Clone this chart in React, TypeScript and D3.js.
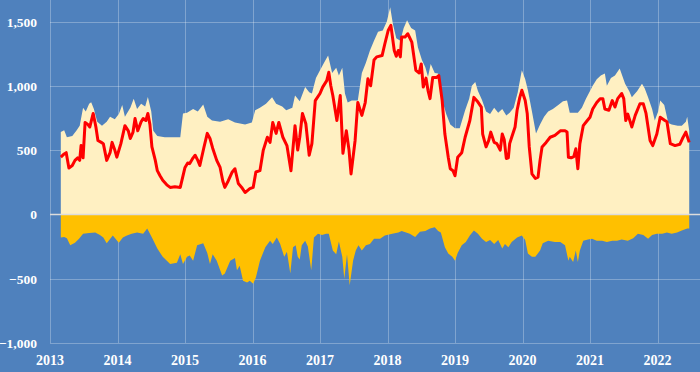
import React, { useRef, useEffect } from 'react';
import * as d3 from 'd3';

// [fractional year, value]
const upperBand: [number, number][] = [
  [2013.16, 640], [2013.21, 655], [2013.25, 600], [2013.33, 610], [2013.39, 650], [2013.44, 690], [2013.49, 830], [2013.53, 800],
  [2013.58, 860], [2013.61, 873], [2013.65, 820], [2013.7, 720], [2013.77, 690], [2013.84, 720], [2013.89, 760], [2013.96, 740],
  [2014.02, 780], [2014.07, 850], [2014.11, 760], [2014.19, 830], [2014.24, 900], [2014.29, 820], [2014.35, 860], [2014.41, 840],
  [2014.45, 912], [2014.5, 800], [2014.53, 650], [2014.59, 610], [2014.7, 600], [2014.81, 600], [2014.93, 600], [2014.97, 785],
  [2015.03, 790], [2015.12, 820], [2015.19, 800], [2015.27, 855], [2015.33, 760], [2015.4, 730], [2015.52, 720], [2015.64, 740],
  [2015.74, 715], [2015.89, 700], [2015.99, 715], [2016.04, 810], [2016.11, 830], [2016.2, 860], [2016.29, 910], [2016.35, 860],
  [2016.44, 840], [2016.5, 810], [2016.59, 830], [2016.63, 925], [2016.7, 880], [2016.78, 990], [2016.84, 950], [2016.88, 940],
  [2016.94, 1060], [2017.0, 1120], [2017.06, 1180], [2017.12, 1236], [2017.18, 1100], [2017.24, 1140], [2017.28, 1080], [2017.33, 1140],
  [2017.37, 940], [2017.41, 870], [2017.47, 885], [2017.56, 885], [2017.62, 1100], [2017.68, 1180], [2017.74, 1275], [2017.8, 1350],
  [2017.86, 1420], [2017.93, 1430], [2017.99, 1500], [2018.04, 1610], [2018.08, 1480], [2018.13, 1370], [2018.19, 1350], [2018.24, 1450],
  [2018.29, 1510], [2018.35, 1450], [2018.41, 1430], [2018.45, 1300], [2018.51, 1200], [2018.56, 1145], [2018.6, 1070], [2018.64, 1170],
  [2018.7, 1100], [2018.75, 1095], [2018.81, 890], [2018.87, 780], [2018.93, 700], [2019.0, 670], [2019.07, 670], [2019.15, 810],
  [2019.21, 900], [2019.25, 1000], [2019.3, 1030], [2019.34, 960], [2019.4, 890], [2019.46, 800], [2019.52, 780], [2019.58, 830],
  [2019.64, 790], [2019.7, 820], [2019.76, 770], [2019.81, 790], [2019.87, 830], [2019.93, 950], [2019.99, 1120], [2020.04, 1050],
  [2020.08, 965], [2020.14, 800], [2020.2, 630], [2020.26, 700], [2020.32, 760], [2020.38, 800], [2020.45, 820], [2020.53, 850],
  [2020.6, 880], [2020.66, 885], [2020.7, 790], [2020.78, 790], [2020.82, 790], [2020.88, 830], [2020.94, 900], [2021.0, 960],
  [2021.04, 1000], [2021.1, 1050], [2021.16, 1080], [2021.22, 1095], [2021.25, 1000], [2021.31, 1060], [2021.37, 1080], [2021.44, 1135],
  [2021.52, 1015], [2021.58, 960], [2021.62, 910], [2021.7, 960], [2021.77, 1015], [2021.81, 980], [2021.86, 910], [2021.92, 820],
  [2021.96, 730], [2022.01, 800], [2022.04, 885], [2022.1, 850], [2022.16, 710], [2022.21, 700], [2022.3, 690], [2022.36, 690],
  [2022.42, 720], [2022.44, 760], [2022.47, 650],
];

const mainLine: [number, number][] = [
  [2013.16, 445], [2013.21, 470], [2013.24, 480], [2013.28, 360], [2013.33, 380], [2013.37, 420], [2013.41, 440], [2013.44, 420],
  [2013.46, 535], [2013.49, 440], [2013.52, 715], [2013.56, 700], [2013.59, 680], [2013.64, 785], [2013.68, 680], [2013.71, 575],
  [2013.76, 560], [2013.79, 550], [2013.84, 420], [2013.89, 480], [2013.92, 560], [2013.96, 500], [2013.99, 445], [2014.05, 550],
  [2014.11, 690], [2014.16, 650], [2014.19, 590], [2014.23, 640], [2014.26, 745], [2014.3, 650], [2014.35, 720], [2014.38, 745],
  [2014.42, 730], [2014.45, 785], [2014.48, 700], [2014.51, 525], [2014.56, 420], [2014.59, 340], [2014.63, 300], [2014.67, 265],
  [2014.73, 230], [2014.78, 210], [2014.85, 215], [2014.93, 210], [2015.0, 365], [2015.04, 400], [2015.07, 395], [2015.12, 440],
  [2015.15, 460], [2015.19, 420], [2015.22, 380], [2015.28, 520], [2015.33, 630], [2015.37, 590], [2015.41, 515], [2015.47, 420],
  [2015.52, 365], [2015.56, 260], [2015.59, 210], [2015.64, 260], [2015.7, 330], [2015.74, 355], [2015.79, 240], [2015.84, 210],
  [2015.89, 170], [2015.96, 200], [2016.01, 210], [2016.05, 330], [2016.11, 340], [2016.16, 500], [2016.22, 600], [2016.26, 560],
  [2016.3, 715], [2016.35, 630], [2016.39, 715], [2016.45, 600], [2016.51, 535], [2016.57, 340], [2016.63, 690], [2016.67, 500],
  [2016.7, 600], [2016.74, 785], [2016.79, 705], [2016.84, 460], [2016.88, 550], [2016.93, 885], [2017.0, 940], [2017.04, 990],
  [2017.1, 1040], [2017.13, 1105], [2017.16, 1000], [2017.19, 925], [2017.25, 730], [2017.3, 925], [2017.34, 475], [2017.39, 650],
  [2017.43, 500], [2017.46, 315], [2017.52, 575], [2017.56, 870], [2017.62, 770], [2017.67, 870], [2017.71, 1055], [2017.75, 1000],
  [2017.8, 1200], [2017.84, 1225], [2017.92, 1235], [2017.96, 1325], [2018.01, 1430], [2018.05, 1470], [2018.1, 1275], [2018.13, 1230],
  [2018.16, 1275], [2018.19, 1225], [2018.21, 1380], [2018.26, 1380], [2018.3, 1405], [2018.36, 1340], [2018.42, 1120], [2018.47, 1100],
  [2018.5, 1170], [2018.53, 990], [2018.57, 1060], [2018.6, 965], [2018.63, 900], [2018.67, 1065], [2018.73, 1065], [2018.76, 1080],
  [2018.81, 885], [2018.85, 625], [2018.9, 445], [2018.93, 355], [2018.97, 340], [2019.0, 300], [2019.04, 445], [2019.1, 480],
  [2019.15, 600], [2019.22, 730], [2019.28, 910], [2019.33, 880], [2019.39, 835], [2019.41, 625], [2019.46, 525], [2019.5, 575],
  [2019.53, 640], [2019.58, 560], [2019.62, 550], [2019.67, 500], [2019.7, 625], [2019.73, 580], [2019.76, 435], [2019.79, 440],
  [2019.81, 550], [2019.84, 600], [2019.89, 680], [2019.92, 810], [2019.96, 910], [2019.99, 965], [2020.04, 885], [2020.07, 785],
  [2020.1, 525], [2020.14, 315], [2020.19, 280], [2020.23, 290], [2020.26, 420], [2020.29, 525], [2020.35, 560], [2020.41, 600],
  [2020.48, 615], [2020.56, 650], [2020.63, 650], [2020.66, 640], [2020.68, 445], [2020.72, 440], [2020.76, 450], [2020.79, 510],
  [2020.82, 355], [2020.85, 550], [2020.9, 690], [2020.96, 730], [2021.0, 755], [2021.04, 820], [2021.1, 870], [2021.15, 900],
  [2021.19, 900], [2021.22, 820], [2021.28, 810], [2021.33, 885], [2021.37, 835], [2021.41, 900], [2021.47, 940], [2021.5, 900],
  [2021.53, 730], [2021.56, 780], [2021.62, 680], [2021.67, 770], [2021.74, 860], [2021.79, 860], [2021.83, 785], [2021.89, 575],
  [2021.93, 535], [2021.99, 625], [2022.04, 755], [2022.11, 730], [2022.14, 720], [2022.19, 550], [2022.26, 535], [2022.33, 545],
  [2022.37, 590], [2022.42, 640], [2022.47, 560],
];

const lowerBand: [number, number][] = [
  [2013.16, -180], [2013.21, -175], [2013.25, -185], [2013.3, -240], [2013.37, -220], [2013.43, -190], [2013.49, -150], [2013.58, -145],
  [2013.67, -140], [2013.74, -160], [2013.79, -180], [2013.84, -225], [2013.93, -165], [2014.02, -220], [2014.08, -180], [2014.14, -165],
  [2014.21, -150], [2014.29, -140], [2014.38, -150], [2014.44, -110], [2014.51, -180], [2014.59, -265], [2014.67, -330], [2014.78, -385],
  [2014.88, -375], [2014.93, -310], [2014.97, -385], [2015.03, -330], [2015.07, -320], [2015.12, -360], [2015.18, -240], [2015.27, -225],
  [2015.33, -300], [2015.37, -385], [2015.41, -310], [2015.47, -360], [2015.55, -475], [2015.59, -460], [2015.67, -360], [2015.74, -340],
  [2015.77, -435], [2015.81, -400], [2015.86, -515], [2015.92, -530], [2015.96, -515], [2016.01, -540], [2016.05, -490], [2016.11, -360],
  [2016.19, -255], [2016.26, -205], [2016.3, -230], [2016.36, -180], [2016.41, -230], [2016.47, -330], [2016.51, -290], [2016.56, -460],
  [2016.6, -255], [2016.64, -240], [2016.67, -330], [2016.7, -350], [2016.73, -240], [2016.78, -205], [2016.82, -250], [2016.87, -435],
  [2016.91, -180], [2016.97, -150], [2017.03, -160], [2017.09, -150], [2017.13, -150], [2017.19, -280], [2017.24, -310], [2017.28, -210],
  [2017.33, -330], [2017.36, -500], [2017.4, -310], [2017.44, -550], [2017.49, -360], [2017.53, -280], [2017.57, -240], [2017.62, -280],
  [2017.68, -240], [2017.74, -230], [2017.8, -190], [2017.89, -190], [2017.96, -165], [2018.07, -150], [2018.16, -140], [2018.21, -130],
  [2018.33, -150], [2018.41, -175], [2018.48, -135], [2018.56, -130], [2018.63, -110], [2018.7, -100], [2018.75, -130], [2018.79, -140],
  [2018.85, -255], [2018.9, -305], [2018.96, -330], [2019.0, -360], [2019.04, -300], [2019.1, -240], [2019.16, -215], [2019.22, -165],
  [2019.28, -125], [2019.34, -150], [2019.4, -190], [2019.46, -215], [2019.52, -200], [2019.58, -230], [2019.64, -200], [2019.7, -265],
  [2019.74, -230], [2019.79, -255], [2019.84, -215], [2019.92, -180], [2019.99, -165], [2020.04, -200], [2020.08, -305], [2020.14, -330],
  [2020.19, -330], [2020.26, -280], [2020.3, -225], [2020.38, -205], [2020.48, -215], [2020.56, -215], [2020.63, -240], [2020.68, -360],
  [2020.7, -330], [2020.75, -370], [2020.79, -280], [2020.82, -370], [2020.85, -280], [2020.9, -205], [2020.97, -195], [2021.03, -190],
  [2021.1, -205], [2021.18, -205], [2021.25, -215], [2021.33, -205], [2021.4, -205], [2021.47, -195], [2021.56, -205], [2021.64, -185],
  [2021.71, -150], [2021.79, -160], [2021.86, -190], [2021.92, -160], [2021.99, -150], [2022.07, -150], [2022.14, -140], [2022.21, -150],
  [2022.29, -140], [2022.36, -125], [2022.44, -110], [2022.47, -110],
];

const yearTicks = [2013, 2014, 2015, 2016, 2017, 2018, 2019, 2020, 2021, 2022];
const valueTicks = [-1000, -500, 0, 500, 1000, 1500];

const W = 700;
const H = 372;

export default function App() {
  const ref = useRef<SVGSVGElement | null>(null);

  useEffect(() => {
    if (!ref.current) return;
    const svg = d3.select(ref.current);
    svg.selectAll('*').remove();

    const x = d3.scaleLinear().domain([2013, 2022]).range([50, 657.5]);
    const y = d3.scaleLinear().domain([-1000, 1500]).range([343, 21.5]);
    const font = '"Liberation Serif", "Times New Roman", serif';

    svg.append('rect').attr('width', W).attr('height', H).attr('fill', '#4f81bd');

    // gridlines
    const grid = svg.append('g').attr('stroke', 'rgba(255,255,255,0.28)').attr('stroke-width', 1);
    grid.selectAll('line.h')
      .data(valueTicks.filter(v => v !== 0))
      .join('line')
      .attr('x1', 50).attr('x2', W)
      .attr('y1', d => Math.round(y(d)) + 0.5).attr('y2', d => Math.round(y(d)) + 0.5);
    grid.selectAll('line.v')
      .data(yearTicks)
      .join('line')
      .attr('x1', d => Math.round(x(d)) + 0.5).attr('x2', d => Math.round(x(d)) + 0.5)
      .attr('y1', 0).attr('y2', y(-1000));

    const band = d3.area<[number, number]>()
      .x(d => x(d[0])).y0(y(0)).y1(d => y(d[1]));
    svg.append('path').attr('d', band(upperBand)).attr('fill', '#fff0c2');
    svg.append('path').attr('d', band(lowerBand)).attr('fill', '#ffc000');

    // zero line
    svg.append('line')
      .attr('x1', 50).attr('x2', W)
      .attr('y1', y(0)).attr('y2', y(0))
      .attr('stroke', '#dcdcdc').attr('stroke-width', 1.5);

    const line = d3.line<[number, number]>().x(d => x(d[0])).y(d => y(d[1]));
    svg.append('path')
      .attr('d', line(mainLine))
      .attr('fill', 'none')
      .attr('stroke', '#ff0000')
      .attr('stroke-width', 3)
      .attr('stroke-linejoin', 'round');

    // y labels
    svg.append('g')
      .selectAll('text')
      .data(valueTicks)
      .join('text')
      .attr('x', 37)
      .attr('y', d => y(d) + 5)
      .attr('text-anchor', 'end')
      .attr('fill', '#ffffff')
      .style('font-family', font)
      .style('font-weight', 'bold')
      .style('font-size', '13.5px')
      .text(d => d3.format(',')(d));

    // x labels
    svg.append('g')
      .selectAll('text')
      .data(yearTicks)
      .join('text')
      .attr('x', d => x(d))
      .attr('y', 365)
      .attr('text-anchor', 'middle')
      .attr('fill', '#ffffff')
      .style('font-family', font)
      .style('font-weight', 'bold')
      .style('font-size', '14px')
      .text(d => String(d));
  }, []);

  return (
    <svg
      ref={ref}
      width={W}
      height={H}
      style={{ position: 'fixed', left: 0, top: 0, display: 'block' }}
    />
  );
}
